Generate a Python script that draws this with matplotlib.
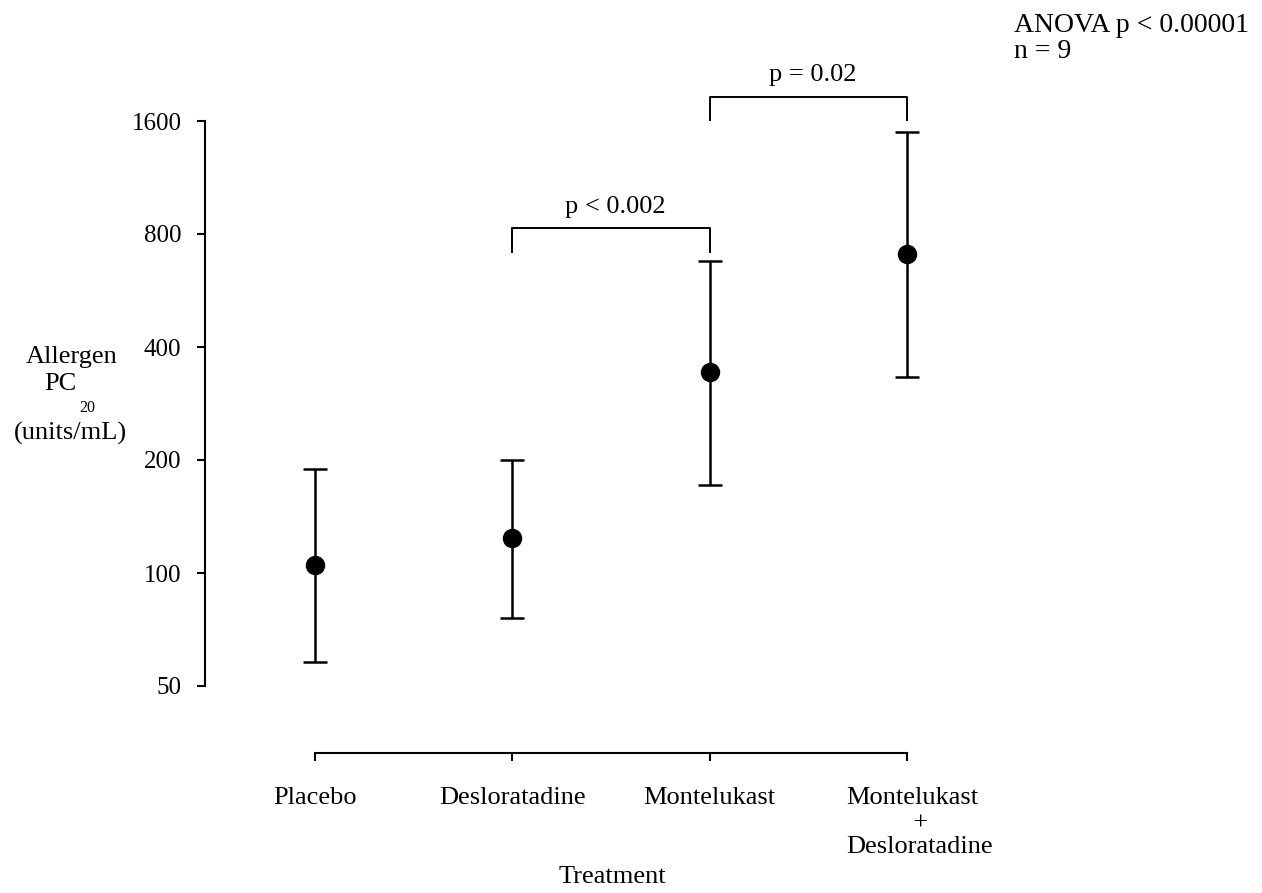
import matplotlib
matplotlib.use('Agg')
import matplotlib.pyplot as plt
from matplotlib.ticker import FixedLocator, NullLocator
from matplotlib.transforms import ScaledTranslation

plt.rcParams['font.family'] = ['Liberation Serif', 'DejaVu Serif']

treatments = ['Placebo', 'Desloratadine', 'Montelukast', 'Montelukast\n          +\nDesloratadine']
pc20_mean = [105, 124, 343, 708]
pc20_low = [58, 76, 172, 333]
pc20_high = [189, 200, 677, 1496]
y_ticks = [50, 100, 200, 400, 800, 1600]

# significance brackets: (left group, right group, bar level, leg bottom, label)
brackets = [(1, 2, 830, 715, 'p < 0.002'),
            (2, 3, 1859, 1610, 'p = 0.02')]

W, H = 1262, 893
fig = plt.figure(figsize=(W / 100, H / 100), dpi=100)
ax = fig.add_axes([205 / W, 1 - 686 / H, (1010 - 205) / W, (686 - 121) / H])

# spines first: repositioning a spine resets the tick formatting
for side in ['top', 'right']:
    ax.spines[side].set_visible(False)
for side in ['left', 'bottom']:
    ax.spines[side].set_linewidth(1.5)
ax.spines['bottom'].set_position(('outward', 48))
ax.spines['bottom'].set_bounds(0, 3)

x = list(range(len(treatments)))
err_lo = [m - l for m, l in zip(pc20_mean, pc20_low)]
err_hi = [h - m for m, h in zip(pc20_mean, pc20_high)]
ax.errorbar(x, pc20_mean, yerr=[err_lo, err_hi], fmt='o', color='black',
            ms=13, elinewidth=1.8, capsize=8.5, capthick=1.8, clip_on=False)

ax.set_yscale('log', base=2)
ax.set_ylim(50, 1600)
ax.set_xlim(-0.5575, 3.522)
ax.yaxis.set_major_locator(FixedLocator(y_ticks))
ax.yaxis.set_minor_locator(NullLocator())
ax.set_yticks(y_ticks)
ax.set_yticklabels([str(v) for v in y_ticks], fontsize=18)
ax.set_xticks(x)
ax.set_xticklabels(treatments, fontsize=19, linespacing=1.15, va='top')

ax.tick_params(axis='both', length=6, width=1.5, direction='out')
ax.tick_params(axis='x', pad=19)
ax.tick_params(axis='y', pad=11)

# the combined-treatment label is left-aligned and sits a little right
combo = ax.get_xticklabels()[-1]
combo.set_multialignment('left')
combo.set_transform(combo.get_transform() + ScaledTranslation(0.13, 0, fig.dpi_scale_trans))

for a, b, top, leg, label in brackets:
    ax.plot([a, a, b, b], [leg, top, top, leg], color='black', lw=1.4,
            clip_on=False)
    ax.text((a + b) / 2 + 0.02, top * 1.065, label, ha='center', va='bottom',
            fontsize=19)

fig.text(612 / W, 1 - 877 / H, 'Treatment', ha='center', va='center', fontsize=19)

# y-axis label with subscript placed under PC
fig.text(72 / W, 1 - 357 / H, 'Allergen', ha='center', va='center', fontsize=19)
fig.text(60 / W, 1 - 384 / H, 'PC', ha='center', va='center', fontsize=19)
fig.text(87 / W, 1 - 408 / H, '20', ha='center', va='center', fontsize=11.5)
fig.text(70 / W, 1 - 433 / H, '(units/mL)', ha='center', va='center', fontsize=19)

fig.text(1014 / W, 1 - 26 / H, 'ANOVA p < 0.00001', ha='left', va='center',
         fontsize=20)
fig.text(1014 / W, 1 - 51 / H, 'n = 9', ha='left', va='center', fontsize=20)

fig.savefig('out.png', dpi=100)
